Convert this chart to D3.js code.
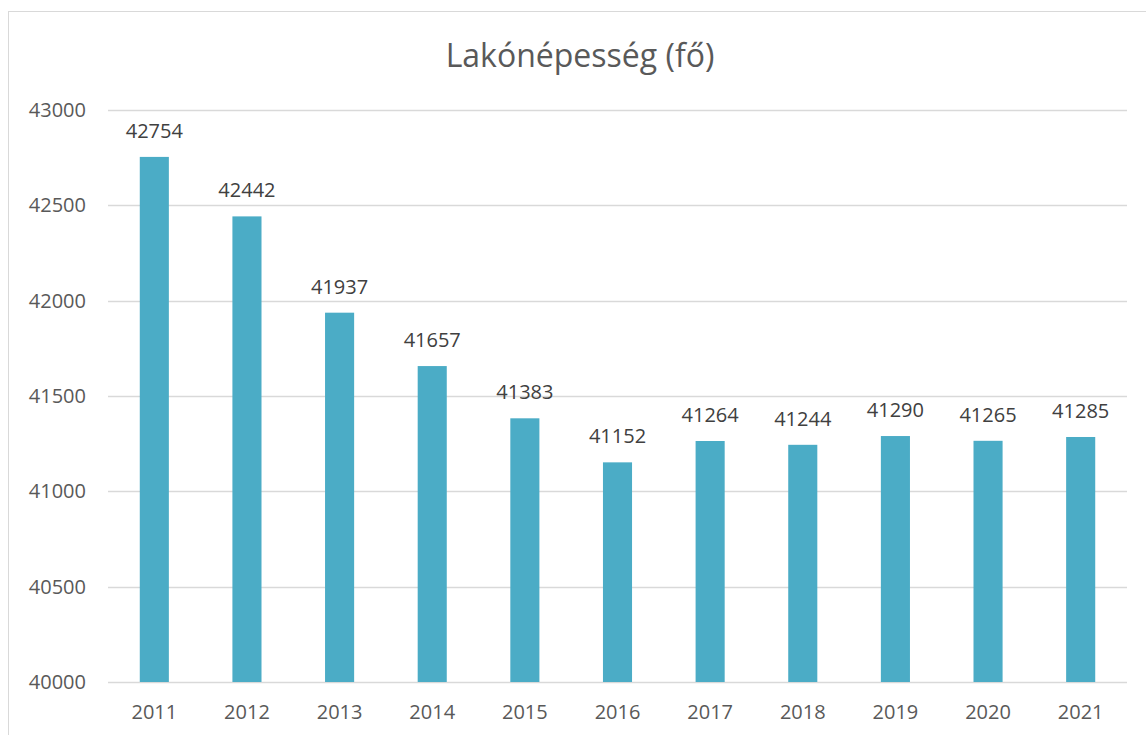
<!DOCTYPE html>
<html>
<head>
<meta charset="utf-8">
<script src="https://cdn.jsdelivr.net/npm/d3@7"></script>
<style>
  body { margin: 0; background: #fff; }
  text { font-family: "Open Sans", sans-serif; }
</style>
</head>
<body>
<script>
// data
const years = ["2011", "2012", "2013", "2014", "2015", "2016", "2017", "2018", "2019", "2020", "2021"];
const population = [42754, 42442, 41937, 41657, 41383, 41152, 41264, 41244, 41290, 41265, 41285];
const yTicks = [40000, 40500, 41000, 41500, 42000, 42500, 43000];

const W = 1146, H = 735;
let margin = {top: 110, right: 19, bottom: 53, left: 108};

let svg = d3.select("body").append("svg")
    .attr("width", W)
    .attr("height", H);

// chart frame
svg.append("rect")
    .attr("x", 8.5).attr("y", 11.5)
    .attr("width", W + 10).attr("height", H + 10)
    .attr("fill", "none")
    .attr("stroke", "#d9d9d9");

let x = d3.scaleBand()
    .domain(years)
    .range([margin.left, W - margin.right])
    .paddingInner(0.686)
    .paddingOuter(0.343);

let y = d3.scaleLinear()
    .domain([40000, 43000])
    .range([H - margin.bottom, margin.top]);

// gridlines
svg.append("g")
    .selectAll("line")
    .data(yTicks)
    .enter().append("line")
    .attr("x1", margin.left)
    .attr("x2", W - margin.right)
    .attr("y1", d => Math.round(y(d)) + 0.5)
    .attr("y2", d => Math.round(y(d)) + 0.5)
    .attr("stroke", "#d9d9d9")
    .attr("stroke-width", 1.5);

// y axis labels
let yAxis = svg.append("g")
    .attr("transform", "translate(" + margin.left + ",0)")
    .call(d3.axisLeft(y).tickValues(yTicks).tickSize(0).tickPadding(22).tickFormat(d3.format("d")));
yAxis.select(".domain").remove();
yAxis.selectAll("text")
    .attr("fill", "#595959")
    .style("font-size", "20px");

// bars
svg.append("g")
    .selectAll("rect")
    .data(population)
    .enter().append("rect")
    .attr("x", (d, i) => x(years[i]))
    .attr("y", d => y(d))
    .attr("width", x.bandwidth())
    .attr("height", d => y(40000) - y(d))
    .attr("fill", "#4bacc6");

// data labels
svg.append("g")
    .selectAll("text")
    .data(population)
    .enter().append("text")
    .attr("x", (d, i) => x(years[i]) + x.bandwidth() / 2)
    .attr("y", d => y(d) - 19)
    .attr("text-anchor", "middle")
    .attr("fill", "#404040")
    .style("font-size", "20px")
    .text(d => d);

// x axis
let xAxis = svg.append("g")
    .attr("transform", "translate(0," + (H - margin.bottom) + ")")
    .call(d3.axisBottom(x).tickSize(0).tickPadding(23));
xAxis.select(".domain").remove();
xAxis.selectAll("text")
    .attr("fill", "#595959")
    .style("font-size", "20px");

// title
svg.append("text")
    .attr("x", 580)
    .attr("y", 67)
    .attr("text-anchor", "middle")
    .attr("fill", "#595959")
    .style("font-size", "32px")
    .text("Lakónépesség (fő)");
</script>
</body>
</html>
